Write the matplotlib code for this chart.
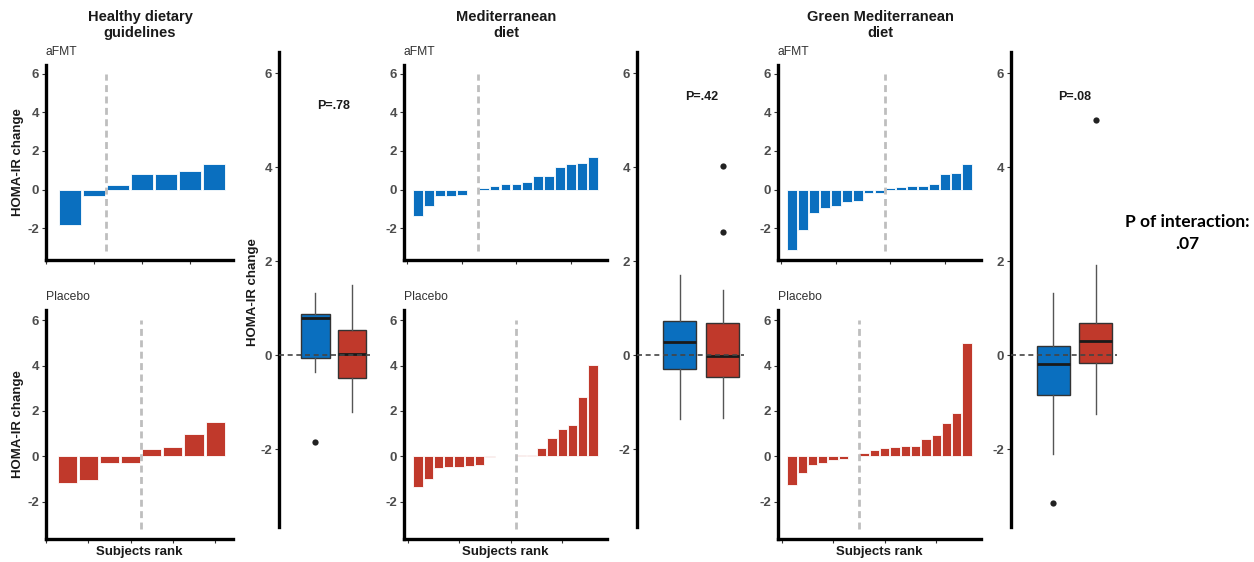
import numpy as np
import matplotlib
matplotlib.use("Agg")
from matplotlib import pyplot as plt

plt.rcParams['font.family'] = ['Liberation Sans', 'DejaVu Sans']
plt.rcParams['axes.unicode_minus'] = False

# HOMA-IR change per subject, sorted by rank
hdg_afmt = [-1.85, -0.35, 0.25, 0.80, 0.80, 0.97, 1.33]
hdg_placebo = [-1.20, -1.05, -0.30, -0.28, 0.33, 0.40, 0.98, 1.50]
med_afmt = [-1.35, -0.85, -0.33, -0.33, -0.28, -0.02, 0.08, 0.20, 0.28,
            0.30, 0.40, 0.68, 0.72, 1.15, 1.30, 1.35, 1.70]
med_placebo = [-1.34, -1.02, -0.54, -0.47, -0.47, -0.41, -0.38, -0.02, -0.01,
               0.00, 0.04, 0.07, 0.38, 0.80, 1.18, 1.38, 2.62, 4.02]
gm_afmt = [-3.15, -2.10, -1.20, -0.95, -0.85, -0.65, -0.58, -0.18, -0.18,
           0.07, 0.15, 0.17, 0.20, 0.30, 0.78, 0.88, 1.33]
gm_placebo = [-1.25, -0.75, -0.38, -0.30, -0.18, -0.12, 0.00, 0.13, 0.28,
              0.35, 0.40, 0.45, 0.45, 0.78, 0.92, 1.45, 1.92, 5.00]

diet_titles = ["Healthy dietary\nguidelines", "Mediterranean\ndiet",
               "Green Mediterranean\ndiet"]
p_values = ["P=.78", "P=.42", "P=.08"]
p_interaction = "P of interaction:\n.07"

BLUE = "#0A6FBF"
RED = "#C0392B"
TICKC = "#4D4D4D"

W, H = 1254, 562
fig = plt.figure(figsize=(W / 100, H / 100), dpi=100)


def px_axes(x0, x1, y0, y1):
    return fig.add_axes([x0 / W, 1 - y1 / H, (x1 - x0) / W, (y1 - y0) / H])


def fig_text(x, y, s, **kw):
    fig.text(x / W, 1 - y / H, s, **kw)


YLIM = (-3.65, 6.45)


def style_y(ax):
    ax.set_ylim(*YLIM)
    ax.set_yticks([-2, 0, 2, 4, 6])
    ax.spines['left'].set_linewidth(2.4)
    ax.tick_params(axis='y', length=3, width=0.8, color='#333333',
                   labelsize=9.5, labelcolor=TICKC, pad=2)
    for lab in ax.get_yticklabels():
        lab.set_fontweight('bold')
    for s in ['top', 'right']:
        ax.spines[s].set_visible(False)


def bar_panel(ax, vals, color, label):
    n = len(vals)
    x = np.arange(1, n + 1)
    ax.bar(x, vals, width=0.9, color=color, edgecolor='white', linewidth=0.6)
    # split between losers and gainers
    cut = sum(v <= 0 for v in vals) + 0.5
    ax.vlines(cut, -3.2, 6, color='#BEBEBE', linewidth=2,
              linestyles=(0, (2.5, 1.6)), zorder=3)
    pad = 0.05 * (n - 0.1)
    ax.set_xlim(0.55 - pad, n + 0.45 + pad)
    step = 2 if n < 10 else 5
    ax.set_xticks(np.arange(0, n + 1, step))
    ax.set_xticklabels([])
    ax.tick_params(axis='x', length=3, width=0.8, color='#333333')
    ax.spines['bottom'].set_linewidth(2.4)
    style_y(ax)
    ax.annotate(label, xy=(0, 1), xycoords='axes fraction',
                xytext=(0, 9.5), textcoords='offset points',
                va='center', ha='left', fontsize=8.7, color='#333333')


def box_panel(ax, a, b, ptxt, py):
    bp = ax.boxplot([a, b], positions=[1, 2], widths=0.78, patch_artist=True,
                    showcaps=False,
                    whiskerprops=dict(color='#555555', linewidth=1),
                    medianprops=dict(color='#1a1a1a', linewidth=2),
                    flierprops=dict(marker='o', markerfacecolor='#222222',
                                    markeredgecolor='none', markersize=4.5),
                    boxprops=dict(edgecolor='#333333', linewidth=1))
    for patch, c in zip(bp['boxes'], [BLUE, RED]):
        patch.set_facecolor(c)
    ax.axhline(0, color='#444444', linewidth=1.2, linestyle=(0, (3, 2.2)),
               zorder=5)
    ax.set_xlim(0, 2.5)
    ax.set_xticks([])
    ax.spines['bottom'].set_visible(False)
    style_y(ax)
    ax.text(1.5, py, ptxt, ha='center', va='center', fontsize=9,
            fontweight='bold', color='#1a1a1a')


# pixel layout: (left, right) for bar panels and box panels
bar_x = [(46, 233), (404, 607), (778, 981)]
box_x = [(279, 370), (637, 744), (1011, 1117)]
title_x = [140, 506, 880]
p_y = [5.3, 5.5, 5.5]
afmt_all = [hdg_afmt, med_afmt, gm_afmt]
plac_all = [hdg_placebo, med_placebo, gm_placebo]

for i in range(3):
    x0, x1 = bar_x[i]
    ax_top = px_axes(x0, x1, 65, 260)
    bar_panel(ax_top, afmt_all[i], BLUE, "aFMT")
    ax_bot = px_axes(x0, x1, 310, 539)
    bar_panel(ax_bot, plac_all[i], RED, "Placebo")
    fig_text((x0 + x1) / 2, 552, "Subjects rank", ha='center', va='center',
             fontsize=9.5, fontweight='bold', color='#1a1a1a')

    bx0, bx1 = box_x[i]
    ax_box = px_axes(bx0, bx1, 52, 527)
    box_panel(ax_box, afmt_all[i], plac_all[i], p_values[i], p_y[i])

    fig_text(title_x[i], 25, diet_titles[i], ha='center', va='center',
             fontsize=10.5, fontweight='bold', color='#1a1a1a',
             linespacing=1.25)

fig_text(18, 162, "HOMA-IR change", rotation=90, ha='center', va='center',
         fontsize=9.5, fontweight='bold', color='#1a1a1a')
fig_text(18, 424, "HOMA-IR change", rotation=90, ha='center', va='center',
         fontsize=9.5, fontweight='bold', color='#1a1a1a')
fig_text(253, 292, "HOMA-IR change", rotation=90, ha='center', va='center',
         fontsize=9.5, fontweight='bold', color='#1a1a1a')

fig_text(1187, 233, p_interaction, ha='center', va='center', fontsize=12.5,
         fontweight='bold', color='black', family=['Lato', 'DejaVu Sans'],
         linespacing=1.4)

fig.savefig("out.png", dpi=100)
